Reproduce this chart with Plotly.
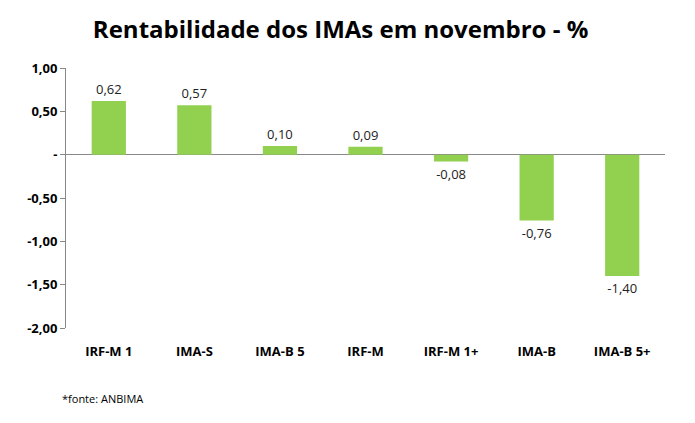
import plotly.graph_objects as go

categories = ["IRF-M 1", "IMA-S", "IMA-B 5", "IRF-M", "IRF-M 1+", "IMA-B", "IMA-B 5+"]
values = [0.62, 0.57, 0.10, 0.09, -0.08, -0.76, -1.40]
tick_vals = [1.0, 0.5, 0.0, -0.5, -1.0, -1.5, -2.0]
tick_text = ["1,00", "0,50", "-", "-0,50", "-1,00", "-1,50", "-2,00"]

labels = [f"{v:.2f}".replace(".", ",") for v in values]

FONT = "Open Sans, Liberation Sans, sans-serif"

fig = go.Figure(go.Bar(
    x=categories, y=values, text=labels, textposition="outside",
    textfont=dict(family=FONT, size=13, color="#222"),
    marker=dict(color="#92D050", line=dict(width=0)),
    width=0.4, cliponaxis=False,
))

fig.update_layout(
    width=695, height=423,
    margin=dict(l=66, r=30, t=68, b=95),
    paper_bgcolor="white", plot_bgcolor="white",
    showlegend=False,
    title=dict(text="<b>Rentabilidade dos IMAs em novembro - %</b>",
               x=0.49, xref="container", xanchor="center", y=0.93, yanchor="middle",
               font=dict(family=FONT, size=24, color="black")),
    xaxis=dict(showline=False, showgrid=False, ticks="", ticklabelstandoff=14,
               tickfont=dict(family=FONT, size=13, color="black", weight="bold")),
    yaxis=dict(range=[-2, 1], tickvals=tick_vals, ticktext=tick_text,
               showline=True, linecolor="#888", linewidth=1, ticks="outside", ticklen=5, tickcolor="#888",
               showgrid=False, zeroline=True, zerolinecolor="#888", zerolinewidth=1,
               tickfont=dict(family=FONT, size=13, color="black", weight="bold")),
    font=dict(family=FONT),
    annotations=[dict(text="*fonte: ANBIMA", xref="paper", yref="paper", x=-0.01, xanchor="left",
                      y=-0.235, yanchor="top", showarrow=False,
                      font=dict(family=FONT, size=11, color="black"))],
)

fig.write_html("out.html")
